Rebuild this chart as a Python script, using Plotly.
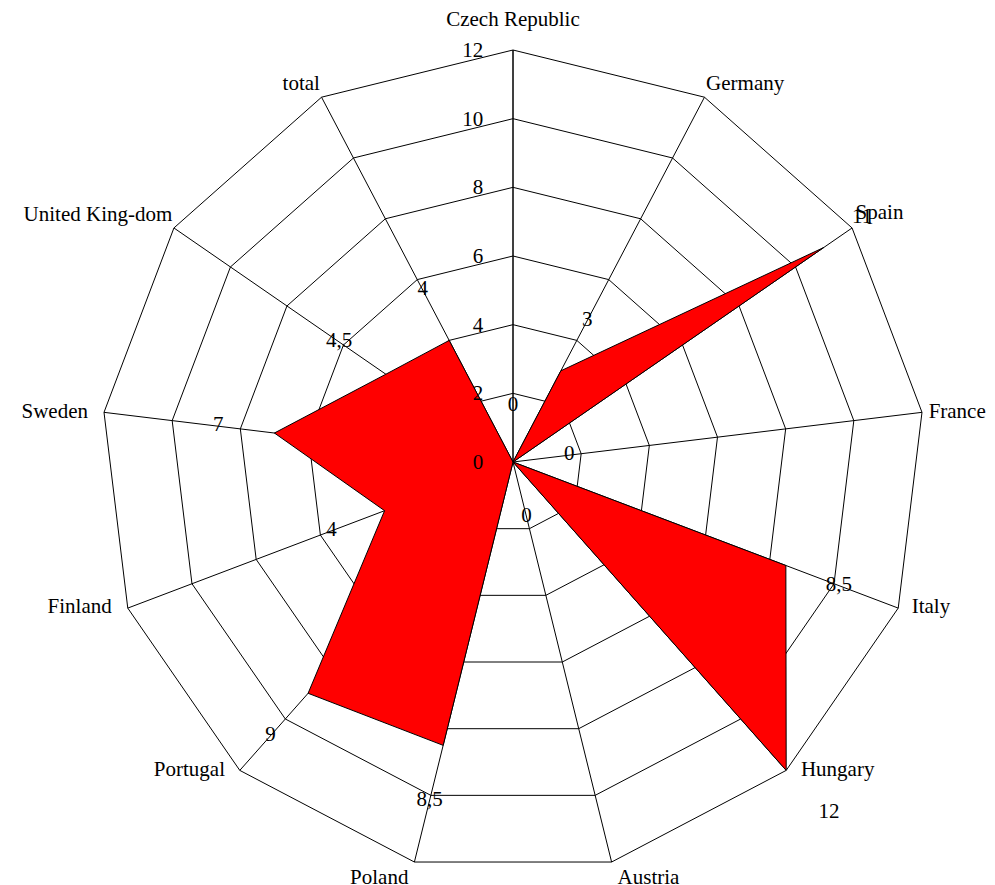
import plotly.graph_objects as go

categories = ["Czech Republic", "Germany", "Spain", "France", "Italy", "Hungary",
              "Austria", "Poland", "Portugal", "Finland", "Sweden",
              "United King-dom", "total"]
values = [0, 3, 11, 0, 8.5, 12, 0, 8.5, 9, 4, 7, 4.5, 4]
radial_ticks = [0, 2, 4, 6, 8, 10, 12]

FONT = "Liberation Serif, Times New Roman, serif"
FSIZE = 21
RMAX = max(radial_ticks)
LABEL_OFFSET = 1.65  # value labels sit this far (in axis units) beyond each point

# category-name placement styles (text side + invisible marker size used as padding)
cat_textpos = ["top center", "top right", "top right", "middle right", "middle right",
               "middle right", "bottom right", "bottom left", "middle left",
               "middle left", "middle left", "top left", "top left"]
cat_pad = [28, 1, 4, 9, 20, 22, 8, 8, 22, 24, 24, 1, 1]


def fmt(v):
    return (str(int(v)) if float(v).is_integer() else str(v)).replace(".", ",")


# value labels: pushed outward along the spoke; those that would pass the outer
# ring are kept on the ring and nudged outward with a text position instead
label_r = [min(v + LABEL_OFFSET, RMAX) for v in values]
label_pos = []
label_pad = []
for v in values:
    if v + LABEL_OFFSET <= RMAX:
        label_pos.append("middle center")
        label_pad.append(0)
    elif v < RMAX:
        label_pos.append("top right")
        label_pad.append(0)
    else:
        label_pos.append("bottom right")
        label_pad.append(50)

fig = go.Figure()
fig.add_trace(go.Scatterpolar(
    r=values + [values[0]],
    theta=categories + [categories[0]],
    mode="lines",
    fill="toself",
    fillcolor="#ff0000",
    line=dict(color="black", width=1),
    hoverinfo="skip",
    showlegend=False,
))
fig.add_trace(go.Scatterpolar(
    r=label_r,
    theta=categories,
    mode="markers+text",
    marker=dict(size=label_pad, color="rgba(0,0,0,0)", line=dict(width=0)),
    text=[fmt(v) for v in values],
    textposition=label_pos,
    textfont=dict(family=FONT, size=FSIZE, color="black"),
    cliponaxis=False,
    hoverinfo="skip",
    showlegend=False,
))
fig.add_trace(go.Scatterpolar(
    r=[RMAX] * len(categories),
    theta=categories,
    mode="markers+text",
    marker=dict(size=cat_pad, color="rgba(0,0,0,0)", line=dict(width=0)),
    text=categories,
    textposition=cat_textpos,
    textfont=dict(family=FONT, size=FSIZE, color="black"),
    cliponaxis=False,
    hoverinfo="skip",
    showlegend=False,
))

fig.update_layout(
    width=995, height=885,
    margin=dict(l=93, r=78, t=42, b=19),
    paper_bgcolor="white",
    font=dict(family=FONT, size=FSIZE, color="black"),
    showlegend=False,
    polar=dict(
        bgcolor="white",
        gridshape="linear",
        domain=dict(x=[0, 1], y=[0, 1]),
        angularaxis=dict(
            rotation=90, direction="clockwise",
            linecolor="black", linewidth=1,
            gridcolor="black", gridwidth=1,
            showline=True, showticklabels=False, ticks="",
            layer="above traces",
        ),
        radialaxis=dict(
            range=[0, RMAX], angle=90,
            tickvals=radial_ticks,
            ticktext=[str(t) for t in radial_ticks],
            linecolor="black", linewidth=1, showline=True,
            gridcolor="black", gridwidth=1,
            ticks="outside", ticklen=22, tickcolor="rgba(0,0,0,0)",
            layer="above traces",
            tickangle=90,
            side="counterclockwise",
            tickfont=dict(family=FONT, size=FSIZE, color="black"),
        ),
    ),
)

fig.write_html("out.html")
